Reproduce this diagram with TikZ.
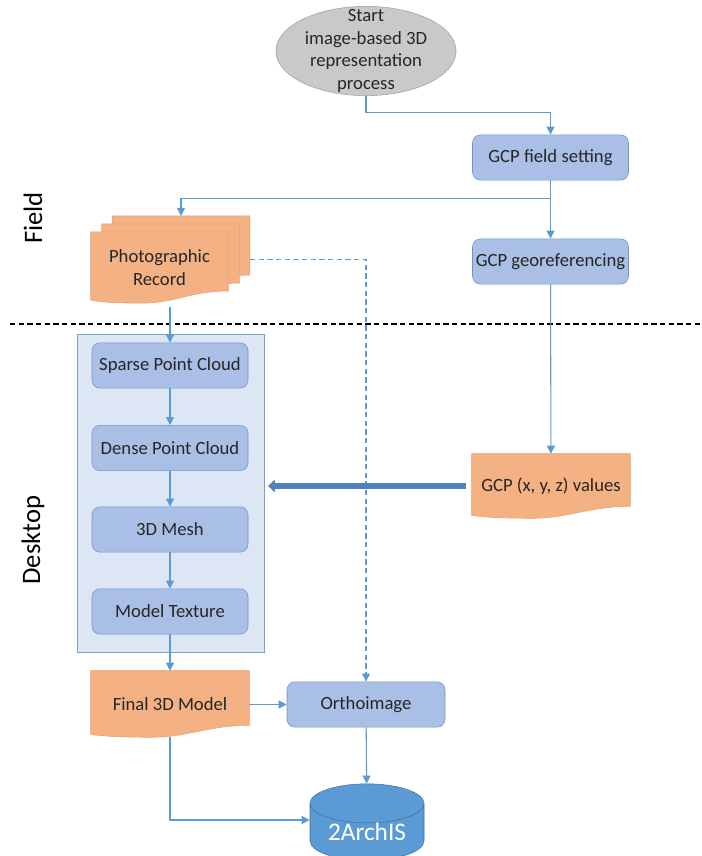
\documentclass[tikz,border=0pt]{standalone}
\usepackage{fontspec}
\setmainfont{Carlito}
\usepackage{xcolor}
\usetikzlibrary{arrows.meta,shapes,positioning,calc}
\pgfdeclarelayer{bg}
\pgfsetlayers{bg,main}
\definecolor{boxfill}{HTML}{AABFE5}
\definecolor{boxline}{HTML}{6E92CC}
\definecolor{panelfill}{HTML}{DCE6F4}
\definecolor{panelline}{HTML}{7C9FC9}
\definecolor{docfill}{HTML}{F4B183}
\definecolor{docline}{HTML}{EE9E6A}
\definecolor{flowblue}{HTML}{5B9BD5}
\definecolor{bigblue}{HTML}{4F81BD}
\definecolor{startfill}{HTML}{C9C9C9}
\definecolor{startline}{HTML}{A0A0A0}
\definecolor{dbline}{HTML}{41719C}
\definecolor{txt}{HTML}{262626}
% wavy outline of a document node (the node reaches down to the trough)
\newcommand{\docoutline}[1]{(#1.north west) -- (#1.north east) -- ($(#1.south east)+(0,-12)$)
  .. controls +(-40,0) and +(35,0) .. ($(#1.south)+(-18,0)$)
  .. controls +(-30,0) and +(12,2) .. ($(#1.south west)+(0,-3)$) -- cycle}

\begin{document}
\begin{tikzpicture}[x = .75pt, y = -.75pt,
    stepbox/.style = {draw = boxline, fill = boxfill, rounded corners = 6pt, text = txt,
      font = \fontsize{14}{17}\selectfont, minimum width = 117pt, minimum height = 34pt, inner sep = 0pt},
    docnode/.style = {text = txt, font = \fontsize{14}{17}\selectfont, align = center, inner sep = 0pt},
    docdraw/.style = {draw = docline, fill = docfill},
    lane/.style = {rotate = 90, font = \fontsize{20}{24}\selectfont},
    flow/.style = {draw = flowblue, line width = .8pt, -{Triangle[width = 6pt, length = 6pt]}},
    bigflow/.style = {draw = bigblue, line width = 4.5pt, -{Triangle[width = 9pt, length = 5pt]}}]
    \useasboundingbox (0,0) rectangle (701,856);
    % Field / Desktop
    \node[lane] (fieldlbl) at (33,218) {Field};
    \node[lane] (desklbl) at (33,540) {Desktop};
    \draw[line width = .8pt, dash pattern = on 4pt off 2.5pt] (10,324) -- (701,324);
    % Field steps
    \node[ellipse, draw = startline, fill = startfill, text = txt, align = center, font = \fontsize{14}{17}\selectfont,
      inner xsep = 2pt, inner ysep = -7.5pt] (start) at (366,51) {Start\\image-based 3D\\representation\\process};
    \node[stepbox] (gcpset) at (550.5,157.5) {GCP field setting};
    \node[stepbox] (georef) at (550.5,261.5) {GCP georeferencing};
    \node[docnode, minimum width = 103pt, minimum height = 53pt] (photoC) at (181,251.5) {};
    \node[docnode, minimum width = 103pt, minimum height = 53pt] (photoB) at (170.5,259.5) {};
    \node[docnode, minimum width = 103pt, minimum height = 53pt] (photoA) at (159.5,267.5) {Photographic\\Record};
    \begin{pgfonlayer}{bg}
      \draw[docdraw] \docoutline{photoC};
      \draw[docdraw] \docoutline{photoB};
      \draw[docdraw] \docoutline{photoA};
    \end{pgfonlayer}
    % Desktop steps
    \begin{pgfonlayer}{bg}
      \node[draw = panelline, fill = panelfill, minimum width = 140pt, minimum height = 238.5pt] (desk) at (170.5,493) {};
    \end{pgfonlayer}
    \node[stepbox] (sparse) at (170,365.5) {Sparse Point Cloud};
    \node[stepbox] (dense) at (170,448) {Dense Point Cloud};
    \node[stepbox] (mesh) at (170,529.5) {3D Mesh};
    \node[stepbox] (texture) at (170,611.5) {Model Texture};
    \node[docnode, minimum width = 118.5pt, minimum height = 48pt] (gcpval) at (551,486) {GCP (x, y, z) values};
    \node[docnode, minimum width = 118.5pt, minimum height = 49.5pt] (final) at (170,704) {Final 3D Model};
    \begin{pgfonlayer}{bg}
      \draw[docdraw] \docoutline{gcpval};
      \draw[docdraw] \docoutline{final};
    \end{pgfonlayer}
    \node[stepbox, minimum width = 118.5pt] (ortho) at (366,704.5) {Orthoimage};
    \node[cylinder, shape border rotate = 90, aspect = .5, draw = dbline, fill = flowblue, text = white,
      font = \fontsize{19}{23}\selectfont, minimum width = 85.5pt, minimum height = 53pt, inner sep = 0pt] (db) at (367,832) {2ArchIS};
    % Connectors
    \draw[flow] (start.south) -- ++(0,17) -| (gcpset.north);
    \draw[flow] (gcpset.south) -- ++(0,18) -| (photoC.north);
    \draw[flow] (gcpset) -- (georef);
    \draw[flow] (georef) -- (gcpval);
    \draw[flow, dash pattern = on 4pt off 2.5pt] (photoC.east |- photoB) -| (ortho.north);
    \draw[flow] (sparse.north |- photoA.south) ++(0,4) -- (sparse.north);
    \draw[flow] (sparse) -- (dense);
    \draw[flow] (dense) -- (mesh);
    \draw[flow] (mesh) -- (texture);
    \draw[flow] (texture) -- (final);
    \draw[bigflow, shorten < = 4pt, shorten > = 3pt] (gcpval.west) -- (gcpval.west -| desk.east);
    \draw[flow] (final.east |- ortho) -- (ortho.west);
    \draw[flow] (ortho) -- (db);
    \draw[flow] (final.south) |- ([yshift = 9pt]db.west);
\end{tikzpicture}
\end{document}
